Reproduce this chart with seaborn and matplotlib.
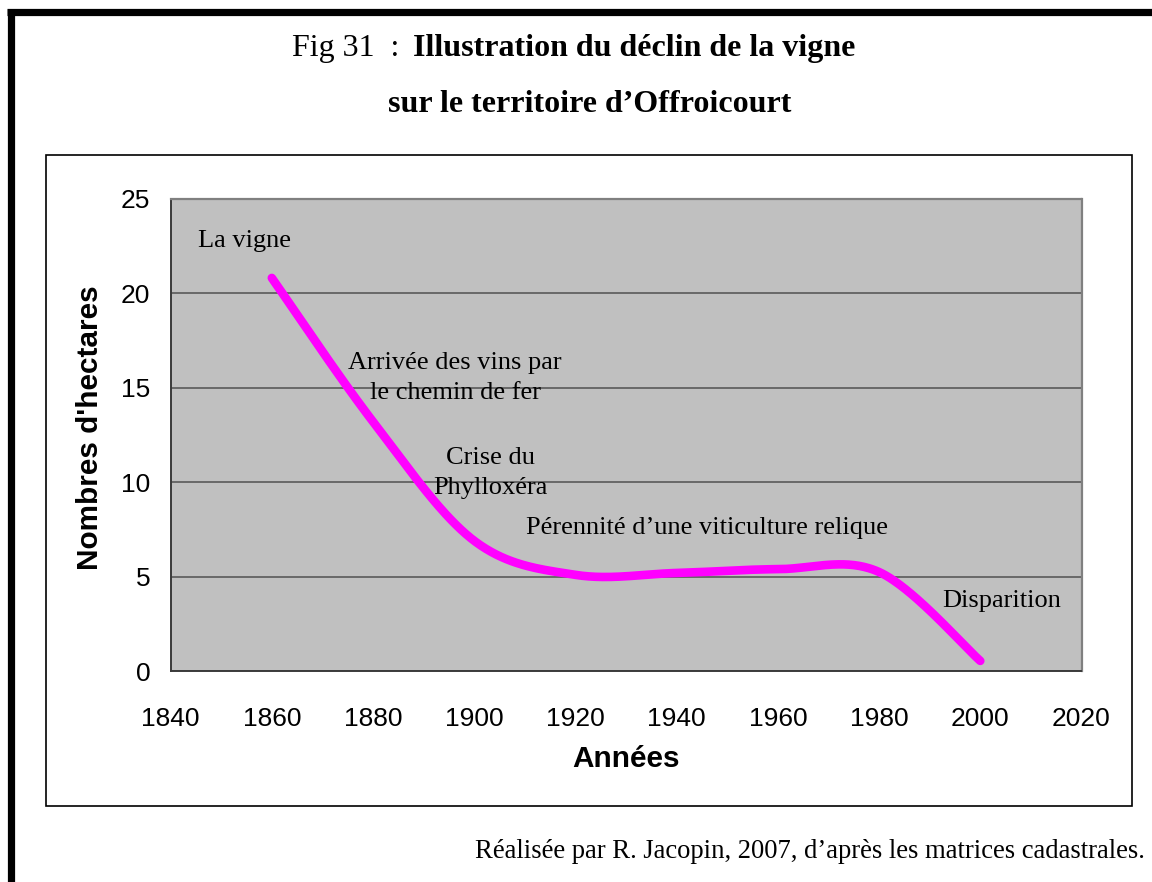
import numpy as np
import pandas as pd
import matplotlib
matplotlib.use("Agg")
import matplotlib.pyplot as plt
import seaborn as sns
from matplotlib.patches import Rectangle
from matplotlib.lines import Line2D

# Surface en vigne (hectares) par année
years = [1860, 1880, 1900, 1920, 1940, 1960, 1980, 2000]
hectares = [20.8, 13.2, 6.9, 5.1, 5.2, 5.4, 5.25, 0.55]

x_ticks = [1840, 1860, 1880, 1900, 1920, 1940, 1960, 1980, 2000, 2020]
y_ticks = [0, 5, 10, 15, 20, 25]

annotations = [
    ("La vigne", 1854.7, 22.75),
    ("Arrivée des vins par\nle chemin de fer", 1896.2, 15.5),
    ("Crise du\nPhylloxéra", 1903.2, 10.5),
    ("Pérennité d\u2019une viticulture relique", 1946.0, 7.6),
    ("Disparition", 2004.2, 3.7),
]

SERIF = "Liberation Serif"
SANS = "Liberation Sans"

sns.set_theme(style="white")
plt.rcParams["font.family"] = [SANS, "DejaVu Sans"]
plt.rcParams["text.color"] = "black"


def smooth_curve(xs, ys, n=60):
    """Courbe lissée type Bézier (Catmull-Rom) passant par chaque point."""
    xs = np.asarray(xs, float)
    ys = np.asarray(ys, float)
    pts = np.column_stack([xs, ys])
    ext = np.vstack([pts[0], pts, pts[-1]])
    out = []
    for i in range(len(pts) - 1):
        p0, p1, p2, p3 = ext[i], ext[i + 1], ext[i + 2], ext[i + 3]
        b1 = p1 + (p2 - p0) / 6.0
        b2 = p2 - (p3 - p1) / 6.0
        t = np.linspace(0, 1, n, endpoint=(i == len(pts) - 2))[:, None]
        seg = ((1 - t) ** 3) * p1 + 3 * ((1 - t) ** 2) * t * b1 \
            + 3 * (1 - t) * t ** 2 * b2 + t ** 3 * p2
        out.append(seg)
    c = np.vstack(out)
    return c[:, 0], c[:, 1]


W, H = 1152, 882
fig = plt.figure(figsize=(W / 100, H / 100), dpi=100)
fig.patch.set_facecolor("white")

# Zone de tracé
left, right, top, bottom = 170.6, 1081.5, 198.5, 671.3
ax = fig.add_axes([left / W, (H - bottom) / H, (right - left) / W, (bottom - top) / H])
ax.set_facecolor("#C0C0C0")

cx, cy = smooth_curve(years, hectares)
df = pd.DataFrame({"Année": cx, "Hectares": cy})
sns.lineplot(data=df, x="Année", y="Hectares", ax=ax, color="#FF00FF",
             linewidth=6.2, sort=False, estimator=None,
             solid_capstyle="round", zorder=3)

ax.set_xlim(1840, 2020)
ax.set_ylim(0, 25)
ax.set_xticks(x_ticks)
ax.set_yticks(y_ticks)
ax.yaxis.grid(True, color="#505050", linewidth=1.1, zorder=1)
ax.xaxis.grid(False)
ax.set_axisbelow(True)

for side in ["top", "right"]:
    ax.spines[side].set_color("#808080")
    ax.spines[side].set_linewidth(1.6)
for side in ["left", "bottom"]:
    ax.spines[side].set_color("#3a3a3a")
    ax.spines[side].set_linewidth(1.4)

ax.tick_params(axis="x", direction="out", length=6.5, width=1.0, color="#3a3a3a",
               pad=19, labelsize=19, labelcolor="black")
ax.tick_params(axis="y", direction="out", length=6.5, width=1.0, color="#3a3a3a",
               pad=8, labelsize=19, labelcolor="black")
for lab in ax.get_xticklabels() + ax.get_yticklabels():
    lab.set_fontfamily(SANS)

ax.set_xlabel("")
ax.set_ylabel("")
fig.text(626 / W, 1 - 759 / H, "Années", ha="center", va="center",
         fontsize=21.4, fontweight="bold", family=SANS)
fig.text(90 / W, 1 - 428 / H, "Nombres d'hectares", ha="center", va="center",
         rotation=90, fontsize=21.4, fontweight="bold", family=SANS)

for txt, xv, yv in annotations:
    ax.text(xv, yv, txt, ha="center", va="center", fontsize=19,
            family=SERIF, color="black", linespacing=1.45, zorder=4)

# Titre
fig.text(399 / W, 1 - 56 / H, "Fig 31  :", ha="right", va="baseline",
         fontsize=23, family=SERIF)
fig.text(413 / W, 1 - 56 / H, "Illustration du déclin de la vigne",
         ha="left", va="baseline", fontsize=23, fontweight="bold", family=SERIF)
fig.text(590 / W, 1 - 112 / H, "sur le territoire d\u2019Offroicourt",
         ha="center", va="baseline", fontsize=23, fontweight="bold", family=SERIF)

# Source
fig.text(1144.5 / W, 1 - 851 / H,
         "Réalisée par R. Jacopin, 2007, d\u2019après les matrices cadastrales.",
         ha="right", va="center", fontsize=19.2, family=SERIF)

# Cadre du graphique
fig.add_artist(Rectangle((46 / W, (H - 806) / H), (1132 - 46) / W, (806 - 155) / H,
                         transform=fig.transFigure, fill=False,
                         edgecolor="black", linewidth=1.2))

# Bordure épaisse de la page
fig.add_artist(Line2D([7 / W, 1.0], [1 - 12 / H, 1 - 12 / H],
                      transform=fig.transFigure, color="black", linewidth=5.2,
                      solid_capstyle="butt"))
fig.add_artist(Line2D([11 / W, 11 / W], [0.0, 1 - 8.5 / H],
                      transform=fig.transFigure, color="black", linewidth=5.2,
                      solid_capstyle="butt"))

fig.savefig("out.png", dpi=100, facecolor="white")
